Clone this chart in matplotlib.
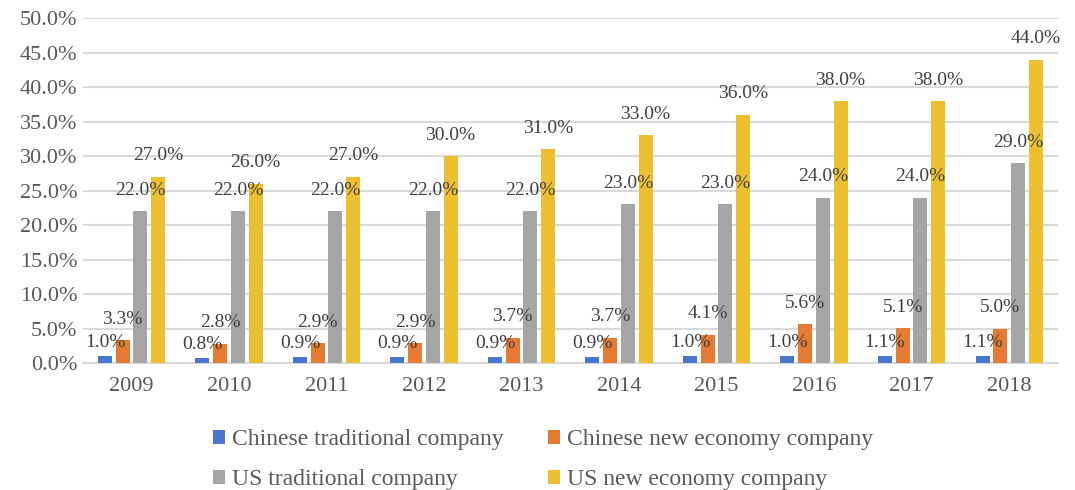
import numpy as np
import matplotlib.pyplot as plt

years = ['2009', '2010', '2011', '2012', '2013', '2014', '2015', '2016', '2017', '2018']
series_names = ['Chinese traditional company', 'Chinese new economy company',
                'US traditional company', 'US new economy company']
cn_trad = [1.0, 0.8, 0.9, 0.9, 0.9, 0.9, 1.0, 1.0, 1.1, 1.1]
cn_new = [3.3, 2.8, 2.9, 2.9, 3.7, 3.7, 4.1, 5.6, 5.1, 5.0]
us_trad = [22.0, 22.0, 22.0, 22.0, 22.0, 23.0, 23.0, 24.0, 24.0, 29.0]
us_new = [27.0, 26.0, 27.0, 30.0, 31.0, 33.0, 36.0, 38.0, 38.0, 44.0]

colors = ['#4A75CC', '#E67A33', '#A5A5A5', '#EBBF2F']
label_offsets = [9.5, 15, 15, 15]  # points above bar top

plt.rcParams['font.family'] = ['Liberation Serif', 'DejaVu Serif']

fig = plt.figure(figsize=(10.75, 4.9), dpi=100)
ax = fig.add_axes([0.077, 0.259, 0.907, 0.704])

x = np.arange(len(years))
step = 0.1815
width = 0.1436
handles = []
for i, (vals, name) in enumerate(zip([cn_trad, cn_new, us_trad, us_new], series_names)):
    pos = x + (i - 1.5) * step
    bars = ax.bar(pos, vals, width, color=colors[i], label=name, zorder=3)
    handles.append(bars)
    for p, v in zip(pos, vals):
        ax.annotate('%.1f%%' % v, (p, v), xytext=(0, label_offsets[i]),
                    textcoords='offset points', ha='center', va='center',
                    fontsize=14, color='#404040', zorder=4)

ax.set_ylim(0, 50)
ax.set_xlim(-0.5, len(years) - 0.5)
ax.set_yticks(np.arange(0, 51, 5))
ax.set_yticklabels(['%.1f%%' % t for t in np.arange(0, 51, 5)])
ax.set_xticks(x)
ax.set_xticklabels(years)
ax.tick_params(axis='both', length=0, labelsize=16, labelcolor='#595959')
ax.tick_params(axis='x', pad=10)
ax.tick_params(axis='y', pad=4)
ax.grid(axis='y', color='#D9D9D9', linewidth=1.5, zorder=0)
for s in ['top', 'right', 'left']:
    ax.spines[s].set_visible(False)
ax.spines['bottom'].set_color('#D9D9D9')
ax.spines['bottom'].set_linewidth(1.5)

order = [0, 2, 1, 3]
fig.legend([handles[k] for k in order], [series_names[k] for k in order],
           loc='upper left', bbox_to_anchor=(0.187, 0.148), ncol=2, frameon=False,
           fontsize=17, labelcolor='#595959', handlelength=0.5, handleheight=0.5,
           handletextpad=0.3, labelspacing=0.8, columnspacing=1.9, borderpad=0)

fig.savefig('out.png', dpi=100)
